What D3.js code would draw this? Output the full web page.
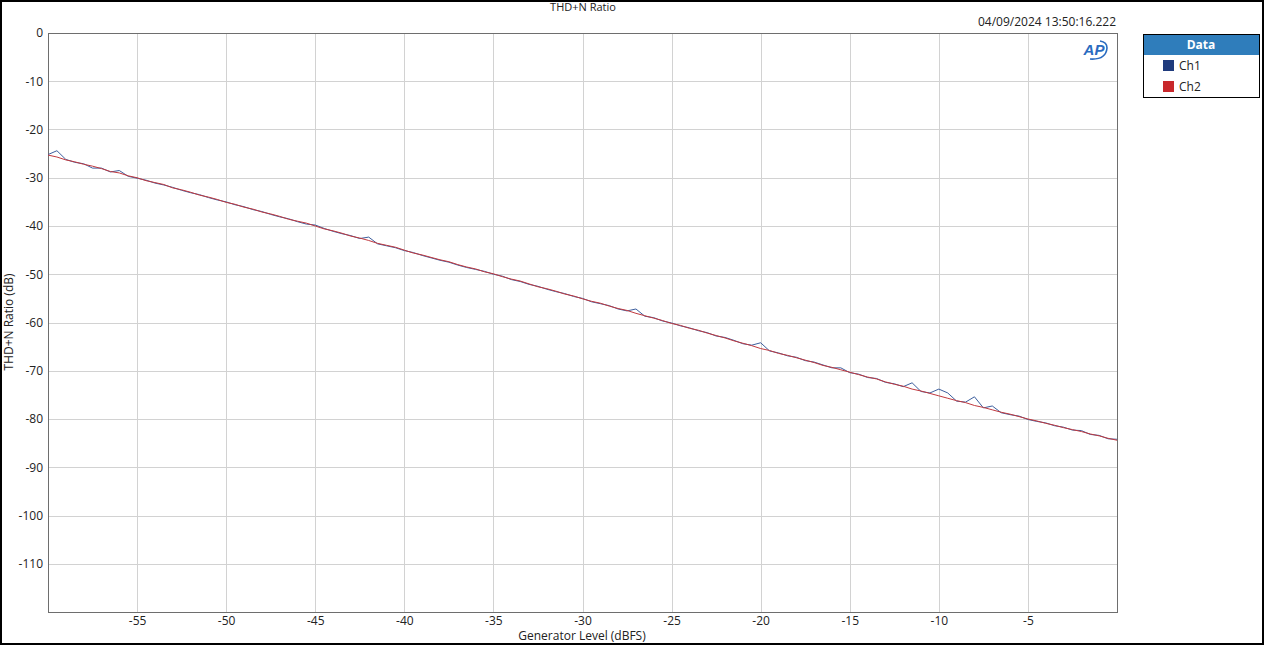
<!DOCTYPE html>
<html><head><meta charset="utf-8">
<script src="https://cdn.jsdelivr.net/npm/d3@7"></script>
<style>
html,body{margin:0;padding:0;background:#fff;}
svg{display:block;font-family:"Segoe UI","Open Sans","Noto Sans",sans-serif;}
</style></head>
<body>
<script>
// Generator level sweep (dBFS), 0.5 dB steps from -60 to 0
const levelStart = -60, levelStep = 0.5;
const ch1 = [-25.2,-24.4,-26.2,-26.8,-27.1,-28.0,-28.0,-28.8,-28.5,-29.7,
-30.1,-30.5,-31.1,-31.5,-32.0,-32.6,-33.1,-33.5,-34.1,-34.6,
-35.0,-35.6,-36.0,-36.6,-37.0,-37.6,-38.1,-38.5,-39.1,-39.6,
-39.8,-40.5,-41.1,-41.6,-42.0,-42.6,-42.3,-43.7,-44.1,-44.5,
-45.1,-45.5,-46.1,-46.6,-47.1,-47.5,-48.1,-48.6,-49.0,-49.4,
-50.0,-50.4,-51.1,-51.5,-52.1,-52.5,-53.1,-53.6,-54.0,-54.6,
-55.0,-55.7,-56.1,-56.5,-57.2,-57.6,-57.2,-58.7,-59.0,-59.7,
-60.1,-60.7,-61.1,-61.7,-62.1,-62.8,-63.1,-63.7,-64.4,-64.7,
-64.2,-65.9,-66.3,-66.9,-67.2,-67.9,-68.2,-68.8,-69.4,-69.4,
-70.4,-70.7,-71.4,-71.6,-72.4,-72.7,-73.3,-72.5,-74.3,-74.6,
-73.8,-74.6,-76.3,-76.5,-75.4,-77.7,-77.3,-78.7,-79.1,-79.4,
-80.1,-80.5,-80.8,-81.4,-81.7,-82.3,-82.4,-83.2,-83.4,-84.1,-84.2];
const ch2 = [-25.3,-25.7,-26.3,-26.7,-27.2,-27.6,-28.1,-28.7,-29.0,-29.6,
-30.0,-30.6,-31.0,-31.4,-32.1,-32.5,-33.0,-33.6,-34.0,-34.5,
-35.1,-35.5,-36.1,-36.5,-37.1,-37.5,-38.0,-38.6,-39.0,-39.4,
-40.0,-40.6,-41.0,-41.5,-42.1,-42.5,-43.0,-43.6,-44.0,-44.4,
-45.0,-45.6,-46.0,-46.5,-47.0,-47.4,-48.0,-48.5,-48.9,-49.5,
-49.9,-50.5,-51.0,-51.4,-52.0,-52.6,-53.0,-53.5,-54.1,-54.5,
-55.1,-55.6,-56.0,-56.6,-57.1,-57.5,-58.1,-58.6,-59.1,-59.6,
-60.2,-60.6,-61.2,-61.6,-62.2,-62.7,-63.2,-63.8,-64.3,-64.8,
-65.4,-65.8,-66.4,-66.8,-67.3,-67.8,-68.3,-68.9,-69.3,-69.8,
-70.3,-70.8,-71.3,-71.7,-72.3,-72.8,-73.2,-73.8,-74.2,-74.7,
-75.2,-75.7,-76.2,-76.6,-77.2,-77.6,-78.1,-78.6,-79.0,-79.5,
-80.0,-80.4,-80.9,-81.3,-81.8,-82.2,-82.6,-83.1,-83.5,-84.0,-84.4];
const xTicks = [-55,-50,-45,-40,-35,-30,-25,-20,-15,-10,-5];
const yTicks = [0,-10,-20,-30,-40,-50,-60,-70,-80,-90,-100,-110];
const seriesNames = ["Ch1","Ch2"];
const seriesColors = ["#1f3b7d","#c8282c"];
const lineColors = ["#3d5f9e","#c0393f"];

const W=1264,H=645;
const m={l:48,r:1117,t:33,b:612};
const svg=d3.select("body").append("svg").attr("width",W).attr("height",H);
svg.append("rect").attr("x",1).attr("y",1).attr("width",W-2).attr("height",H-2)
  .attr("fill","#fff").attr("stroke","#000").attr("stroke-width",2);

const x=d3.scaleLinear().domain([-60,0]).range([m.l,m.r]);
const y=d3.scaleLinear().domain([0,-120]).range([m.t,m.b]);

// grid
const g=svg.append("g");
g.selectAll(".gx").data(xTicks).join("line")
 .attr("x1",d=>Math.round(x(d))+0.5).attr("x2",d=>Math.round(x(d))+0.5)
 .attr("y1",m.t).attr("y2",m.b).attr("stroke","#d2d2d2").attr("stroke-width",1);
g.selectAll(".gy").data(yTicks).join("line")
 .attr("y1",d=>Math.round(y(d))+0.5).attr("y2",d=>Math.round(y(d))+0.5)
 .attr("x1",m.l).attr("x2",m.r).attr("stroke","#d2d2d2").attr("stroke-width",1);

// axes
const xAxis=d3.axisBottom(x).tickValues(xTicks).tickSize(0).tickPadding(4).tickFormat(d=>d);
const yAxis=d3.axisLeft(y).tickValues(yTicks).tickSize(0).tickPadding(5).tickFormat(d=>d);
const ax=svg.append("g").attr("transform",`translate(0,${m.b})`).call(xAxis);
const ay=svg.append("g").attr("transform",`translate(${m.l},0)`).call(yAxis);
[ax,ay].forEach(a=>{a.select(".domain").remove();
  a.selectAll("text").attr("font-size",12).attr("fill","#222")
   .attr("font-family",'"Segoe UI","Open Sans","Noto Sans",sans-serif');});

// frame
svg.append("rect").attr("x",m.l+0.5).attr("y",m.t+0.5).attr("width",m.r-m.l).attr("height",m.b-m.t)
 .attr("fill","none").attr("stroke","#6e6e6e").attr("stroke-width",1);

// data lines
const line=d3.line().x((d,i)=>x(levelStart+i*levelStep)).y(d=>y(d));
const clip=svg.append("clipPath").attr("id","clip").append("rect")
 .attr("x",m.l).attr("y",m.t).attr("width",m.r-m.l).attr("height",m.b-m.t);
[ch1,ch2].forEach((s,k)=>{
 svg.append("path").datum(s).attr("d",line).attr("fill","none")
  .attr("stroke",lineColors[k]).attr("stroke-width",1).attr("clip-path","url(#clip)");
});

// titles
svg.append("text").attr("x",583).attr("y",11).attr("text-anchor","middle")
 .attr("font-size",11).attr("fill","#222").text("THD+N Ratio");
svg.append("text").attr("x",1116).attr("y",26).attr("text-anchor","end")
 .attr("font-size",12).attr("fill","#222").text("04/09/2024 13:50:16.222");
svg.append("text").attr("x",582).attr("y",640).attr("text-anchor","middle")
 .attr("font-size",12).attr("fill","#222").text("Generator Level (dBFS)");
svg.append("text").attr("transform","translate(13,322) rotate(-90)").attr("text-anchor","middle")
 .attr("font-size",12).attr("fill","#222").text("THD+N Ratio (dB)");

// AP logo
const lg=svg.append("g").attr("transform","translate(1096,50)");
lg.append("text").attr("x",-2).attr("y",5).attr("text-anchor","middle")
 .attr("font-size",15).attr("font-weight","bold").attr("font-style","italic")
 .attr("fill","#2a6bc0").attr("font-family","'Liberation Sans',Arial,sans-serif").text("AP");
lg.append("path").attr("d","M -6 9 Q 10 10 11 -2 Q 11 -8 4 -9").attr("fill","none")
 .attr("stroke","#2a6bc0").attr("stroke-width",1.6);

// legend
const L=svg.append("g").attr("transform","translate(1143,34)");
L.append("rect").attr("x",0.5).attr("y",0.5).attr("width",116).attr("height",63)
 .attr("fill","#fff").attr("stroke","#000").attr("stroke-width",1);
L.append("rect").attr("x",1).attr("y",1).attr("width",115).attr("height",20).attr("fill","#2f7dbb");
L.append("text").attr("x",58).attr("y",15).attr("text-anchor","middle").attr("font-size",12)
 .attr("font-weight","bold").attr("fill","#fff").text("Data");
seriesNames.forEach((n,i)=>{
 L.append("rect").attr("x",20).attr("y",26+i*21).attr("width",11).attr("height",11).attr("fill",seriesColors[i]);
 L.append("text").attr("x",36).attr("y",36+i*21).attr("font-size",12).attr("fill","#222").text(n);
});
</script>
</body></html>
